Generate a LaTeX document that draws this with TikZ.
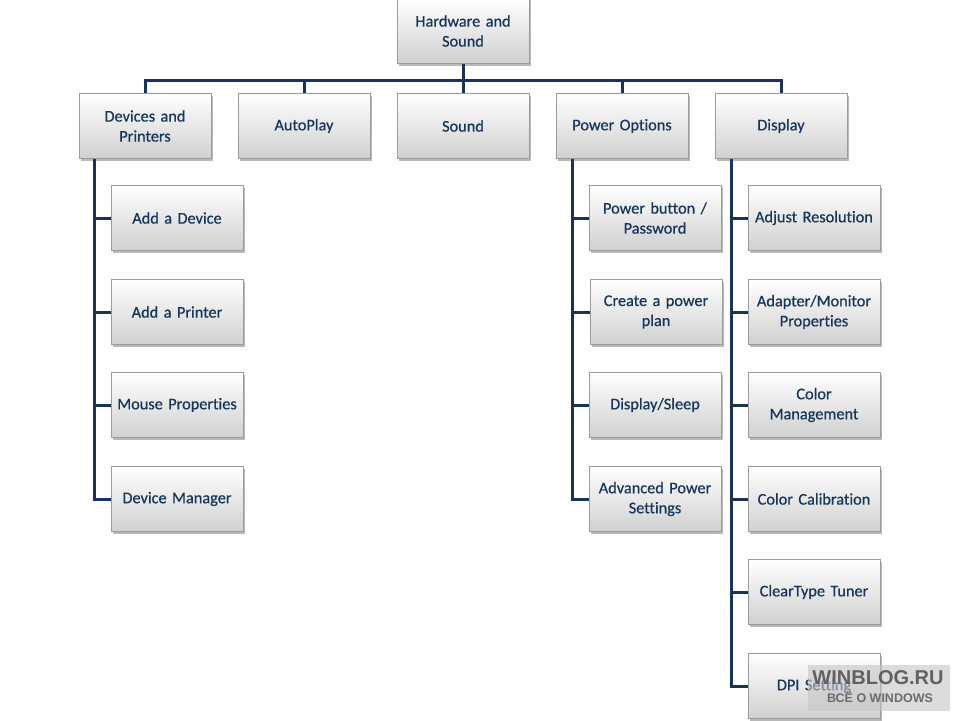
\documentclass[tikz,border=0pt]{standalone}
\usepackage{fontspec}
\setmainfont{Carlito}[Ligatures=NoCommon, FakeBold=0.6, WordSpace=0.8]
\newfontfamily\wmfont{Liberation Sans}
\usetikzlibrary{shadows}
\definecolor{navy}{RGB}{25,50,92}
\definecolor{txt}{RGB}{23,54,93}
\definecolor{boxbot}{RGB}{208,208,208}
\tikzset{
  x=1pt, y=-1pt,
  box/.style={minimum width=131pt, minimum height=65pt, inner sep=2pt,
    align=center, text width=128pt, font=\fontsize{16.3}{20}\selectfont, text=txt,
    top color=white, bottom color=boxbot, draw=boxbot!75!black, line width=0.3pt,
    drop shadow={shadow xshift=1.5pt, shadow yshift=-2pt, fill=black, opacity=0.28}},
  conn/.style={draw=navy, line width=3pt}
}
\begin{document}
\begin{tikzpicture}
\useasboundingbox[fill=white] (0,0) rectangle (960,720);
% root
\node[box] (root) at (463,31) {Hardware and\\Sound};
% level 1
\node[box] (dev) at (145,126) {Devices and\\Printers};
\node[box] (auto) at (304,126) {AutoPlay};
\node[box] (snd) at (463,126) {Sound};
\node[box] (pow) at (622,126) {Power Options};
\node[box] (disp) at (781,126) {Display};
% bus
\coordinate (bus) at (463,80);
\coordinate (busL) at (145,80);
\coordinate (busR) at (781,80);
\draw[conn] (root.south) -- (bus);
\draw[conn,line cap=rect] (busL) -- (busR);
\foreach \n in {dev,auto,snd,pow,disp} {
  \draw[conn] (\n.north |- bus) -- (\n.north);
}
% devices children
\node[box] (d1) at (177,218) {Add a Device};
\node[box] (d2) at (177,312) {Add a Printer};
\node[box] (d3) at (177,405) {Mouse Properties};
\node[box] (d4) at (177,499) {Device Manager};
% power children
\node[box] (p1) at (655,218) {Power button /\\Password};
\node[box] (p2) at (656,312) {Create a power\\plan};
\node[box] (p3) at (655,405) {Display/Sleep};
\node[box] (p4) at (655,499) {Advanced Power\\Settings};
% display children
\node[box] (s1) at (814,218) {Adjust Resolution};
\node[box] (s2) at (814,312) {Adapter/Monitor\\Properties};
\node[box] (s3) at (814,405) {Color\\Management};
\node[box] (s4) at (814,499) {Color Calibration};
\node[box] (s5) at (814,592) {ClearType Tuner};
\node[box] (s6) at (814,686) {DPI Setting};
% trunks
\coordinate (dt) at (94,158.5);
\coordinate (pt) at (572,158.5);
\coordinate (st) at (731,158.5);
\draw[conn] (dt) -- (dt |- d4) -- (d4.west);
\foreach \n in {d1,d2,d3} \draw[conn] (dt |- \n) -- (\n.west);
\draw[conn] (pt) -- (pt |- p4) -- (p4.west);
\foreach \n in {p1,p2,p3} \draw[conn] (pt |- \n) -- (\n.west);
\draw[conn] (st) -- (st |- s6) -- (s6.west);
\foreach \n in {s1,s2,s3,s4,s5} \draw[conn] (st |- \n) -- (\n.west);
% watermark
\node[fill=gray!45, fill opacity=0.6, minimum width=142pt, minimum height=46pt, inner sep=0pt] (wm) at (879,688) {};
\node[font=\wmfont\bfseries\fontsize{20}{20}\selectfont, text=black!62] (wm1) at (878,678) {WINBLOG.RU};
\node[font=\wmfont\bfseries\fontsize{12.5}{12.5}\selectfont, text=black!58] (wm2) at (880,697) {ВСЁ О WINDOWS};
\end{tikzpicture}
\end{document}
